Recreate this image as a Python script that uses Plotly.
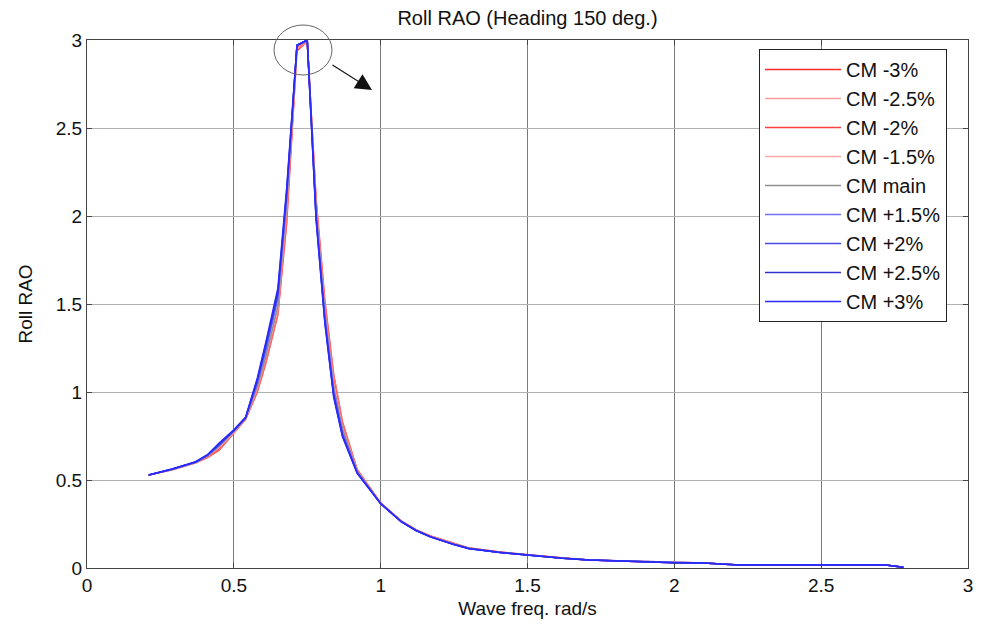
import plotly.graph_objects as go

freq = [0.21, 0.29, 0.37, 0.41, 0.45, 0.50, 0.54, 0.58, 0.61, 0.65, 0.68, 0.715, 0.75,
        0.78, 0.81, 0.84, 0.87, 0.92, 1.00, 1.07, 1.12, 1.17, 1.25, 1.30, 1.40, 1.50,
        1.62, 1.71, 1.85, 2.00, 2.10, 2.22, 2.50, 2.72, 2.78]

cm_m30 = [0.528, 0.558, 0.598, 0.628, 0.670, 0.765, 0.845, 1.000, 1.170, 1.440, 1.960, 2.940, 2.990,
          2.100, 1.520, 1.100, 0.830, 0.560, 0.370, 0.268, 0.218, 0.182, 0.138, 0.114, 0.092, 0.075,
          0.057, 0.046, 0.038, 0.030, 0.028, 0.017, 0.017, 0.017, 0.004]
cm_m25 = [0.528, 0.558, 0.598, 0.630, 0.675, 0.768, 0.846, 1.010, 1.180, 1.450, 1.990, 2.950, 2.990,
          2.080, 1.500, 1.090, 0.820, 0.556, 0.369, 0.267, 0.217, 0.181, 0.137, 0.113, 0.091, 0.075,
          0.057, 0.046, 0.038, 0.030, 0.028, 0.017, 0.017, 0.017, 0.004]
cm_m20 = [0.528, 0.559, 0.599, 0.632, 0.680, 0.770, 0.848, 1.015, 1.190, 1.460, 2.010, 2.960, 2.995,
          2.070, 1.490, 1.070, 0.810, 0.554, 0.368, 0.266, 0.216, 0.180, 0.136, 0.113, 0.091, 0.074,
          0.056, 0.045, 0.038, 0.030, 0.028, 0.017, 0.017, 0.017, 0.004]
cm_m15 = [0.528, 0.559, 0.600, 0.634, 0.685, 0.772, 0.849, 1.020, 1.200, 1.470, 2.040, 2.965, 3.000,
          2.060, 1.470, 1.050, 0.800, 0.552, 0.367, 0.265, 0.215, 0.179, 0.135, 0.112, 0.090, 0.074,
          0.056, 0.045, 0.038, 0.030, 0.028, 0.017, 0.017, 0.017, 0.004]
cm_main = [0.528, 0.560, 0.600, 0.636, 0.690, 0.775, 0.850, 1.030, 1.210, 1.490, 2.070, 2.970, 3.000,
           2.040, 1.450, 1.030, 0.790, 0.550, 0.367, 0.265, 0.215, 0.178, 0.135, 0.112, 0.090, 0.074,
           0.056, 0.045, 0.038, 0.030, 0.028, 0.017, 0.017, 0.017, 0.004]
cm_p15 = [0.528, 0.561, 0.601, 0.638, 0.695, 0.778, 0.852, 1.045, 1.240, 1.530, 2.100, 2.970, 3.000,
          2.020, 1.430, 1.010, 0.770, 0.545, 0.366, 0.264, 0.214, 0.178, 0.134, 0.112, 0.090, 0.074,
          0.056, 0.045, 0.038, 0.030, 0.028, 0.017, 0.017, 0.017, 0.004]
cm_p20 = [0.528, 0.561, 0.602, 0.640, 0.700, 0.780, 0.853, 1.060, 1.260, 1.550, 2.120, 2.970, 3.000,
          2.000, 1.410, 0.990, 0.760, 0.542, 0.366, 0.264, 0.214, 0.177, 0.134, 0.111, 0.089, 0.073,
          0.055, 0.045, 0.037, 0.030, 0.028, 0.017, 0.017, 0.017, 0.004]
cm_p25 = [0.528, 0.562, 0.603, 0.642, 0.705, 0.782, 0.855, 1.070, 1.280, 1.570, 2.140, 2.970, 3.000,
          1.990, 1.400, 0.980, 0.750, 0.540, 0.365, 0.263, 0.213, 0.177, 0.133, 0.111, 0.089, 0.073,
          0.055, 0.045, 0.037, 0.030, 0.028, 0.017, 0.017, 0.017, 0.004]
cm_p30 = [0.528, 0.562, 0.604, 0.644, 0.710, 0.785, 0.857, 1.080, 1.290, 1.590, 2.160, 2.970, 3.000,
          1.980, 1.390, 0.970, 0.745, 0.538, 0.365, 0.263, 0.213, 0.176, 0.133, 0.110, 0.089, 0.073,
          0.055, 0.045, 0.037, 0.030, 0.028, 0.017, 0.017, 0.017, 0.004]

names = ["CM -3%", "CM -2.5%", "CM -2%", "CM -1.5%", "CM main",
         "CM +1.5%", "CM +2%", "CM +2.5%", "CM +3%"]
series = [cm_m30, cm_m25, cm_m20, cm_m15, cm_main, cm_p15, cm_p20, cm_p25, cm_p30]
colors = ["#ff2a2a", "#ff9a9a", "#ff4040", "#ffa8a8", "#909090",
          "#7070ff", "#4848e8", "#3030d0", "#2a2aff"]

x_tick_vals = [0, 0.5, 1, 1.5, 2, 2.5, 3]
x_tick_text = ["0", "0.5", "1", "1.5", "2", "2.5", "3"]
y_tick_vals = [0, 0.5, 1, 1.5, 2, 2.5, 3]
y_tick_text = ["0", "0.5", "1", "1.5", "2", "2.5", "3"]

FONT = "Liberation Sans, Arial, Helvetica, sans-serif"

fig = go.Figure()
for i, (nm, ys, c) in enumerate(zip(names, series, colors)):
    fig.add_trace(go.Scatter(x=freq, y=ys, mode="lines", name=nm, legendgroup=f"g{i}",
                             line=dict(color=c, width=1.5)))

W, H = 988, 626
ml, mr, mt, mb = 87, 20, 40, 58
pw, ph = W - ml - mr, H - mt - mb

def px_x(p):
    return (p - ml) / pw

def px_y(p):
    return (H - mb - p) / ph

fig.update_layout(
    width=W, height=H,
    margin=dict(l=ml, r=mr, t=mt, b=mb),
    paper_bgcolor="white", plot_bgcolor="white",
    font=dict(family=FONT, size=19, color="#111111"),
    title=dict(text="Roll RAO (Heading 150 deg.)", x=0.5, xref="paper", xanchor="center",
               y=1 - 18 / H, yanchor="middle", font=dict(size=20, color="#111111")),
    showlegend=True,
    legend=dict(x=px_x(759), y=px_y(49), xanchor="left", yanchor="top",
                bgcolor="white", bordercolor="#222222", borderwidth=1,
                font=dict(size=20, color="#111111"), tracegroupgap=0,
                itemwidth=76),
    xaxis=dict(range=[0, 3], tickmode="array", tickvals=x_tick_vals, ticktext=x_tick_text,
               showgrid=True, gridcolor="#7a7a7a", gridwidth=1,
               showline=True, linecolor="#444444", linewidth=1, mirror="ticks",
               ticks="inside", ticklen=5, tickcolor="#444444", zeroline=False,
               title=dict(text="Wave freq. rad/s", standoff=6, font=dict(size=19))),
    yaxis=dict(range=[0, 3], tickmode="array", tickvals=y_tick_vals, ticktext=y_tick_text,
               showgrid=True, gridcolor="#b0b0b0", gridwidth=1,
               showline=True, linecolor="#444444", linewidth=1, mirror="ticks",
               ticks="inside", ticklen=5, tickcolor="#444444", zeroline=False,
               title=dict(text="Roll RAO", standoff=18, font=dict(size=19))),
)

# ellipse around the peak
fig.add_shape(type="circle", xref="paper", yref="paper",
              x0=px_x(274), x1=px_x(332), y0=px_y(75), y1=px_y(25),
              line=dict(color="#666666", width=1))
# arrow
fig.add_annotation(xref="paper", yref="paper", x=px_x(372), y=px_y(90),
                   ax=331 - 372, ay=64 - 90, text="", showarrow=True,
                   arrowhead=2, arrowsize=3, arrowwidth=1.1, arrowcolor="#111111")

fig.write_html("out.html")
